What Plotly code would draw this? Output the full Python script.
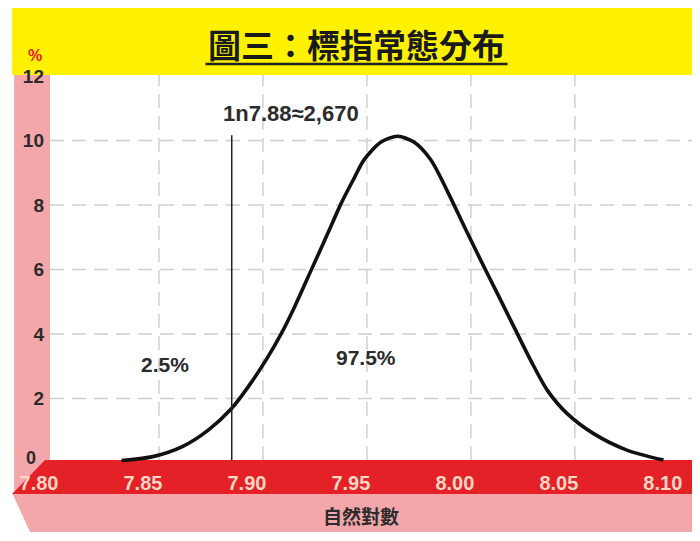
import plotly.graph_objects as go

# ---- data ----
curve_x = [7.832, 7.8465, 7.861, 7.8737, 7.8849, 7.8929, 7.9024, 7.9088, 7.9152, 7.9232,
           7.9312, 7.9376, 7.944, 7.9486, 7.9568, 7.9648, 7.9726, 7.9807, 7.9889, 7.9967,
           8.0047, 8.0127, 8.0207, 8.0287, 8.0367, 8.0463, 8.059, 8.075, 8.0926]
curve_y = [0.08, 0.19, 0.5, 1.02, 1.69, 2.36, 3.29, 4.01, 4.84, 5.98,
           7.12, 8.05, 8.85, 9.4, 9.95, 10.13, 9.95, 9.4, 8.4, 7.35,
           6.29, 5.26, 4.22, 3.19, 2.26, 1.53, 0.91, 0.40, 0.09]
cutoff_x = 7.885
cutoff_top = 10.16
x_ticks = [7.80, 7.85, 7.90, 7.95, 8.00, 8.05, 8.10]
x_tick_text = ["7.80", "7.85", "7.90", "7.95", "8.00", "8.05", "8.10"]
x_grid = [7.85, 7.90, 7.95, 8.00, 8.05]
y_ticks = [0, 2, 4, 6, 8, 10, 12]
y_grid = [2, 4, 6, 8, 10]
title_text = "圖三：標指常態分布"
x_title = "自然對數"
y_unit = "%"
cut_label = "1n7.88≈2,670"
left_label = "2.5%"
right_label = "97.5%"

# ---- layout geometry (pixels in the reference picture) ----
WIDTH, HEIGHT = 700, 541
OFF = 8  # page body margin
L, R, T, B = 48, 692, 75, 463
PW, PH = R - L, B - T


def px(x):
    return (x - L) / PW


def py(y):
    return (B - y) / PH


YELLOW = "#fff200"
RED = "#e42126"
PINK = "#f4a7aa"
CREAM = "#f9d6c6"
DARK = "#2b2b2b"
GRID = "#cfcfcf"

fig = go.Figure()
fig.add_trace(go.Scatter(x=curve_x, y=curve_y, mode="lines",
                         line=dict(color="#111111", width=3.6, shape="spline", smoothing=0.8),
                         hoverinfo="skip", showlegend=False, cliponaxis=False))

shapes = []
shapes.append(dict(type="rect", xref="paper", yref="paper", layer="below",
                   x0=px(10), x1=px(692), y0=py(75), y1=py(8),
                   fillcolor=YELLOW, line=dict(width=0)))
shapes.append(dict(type="rect", xref="paper", yref="paper", layer="below",
                   x0=px(12), x1=px(48), y0=py(494), y1=py(75),
                   fillcolor=PINK, line=dict(width=0)))
shapes.append(dict(type="path", xref="paper", yref="paper", layer="below",
                   path=f"M {px(10)} {py(493)} L {px(692)} {py(493)} L {px(692)} {py(532)} L {px(28)} {py(532)} Z",
                   fillcolor=PINK, line=dict(width=0)))
shapes.append(dict(type="path", xref="paper", yref="paper", layer="below",
                   path=f"M {px(43)} {py(460)} L {px(692)} {py(460)} L {px(692)} {py(494)} L {px(10)} {py(494)} Z",
                   fillcolor=RED, line=dict(width=0)))
for gx in x_grid:
    shapes.append(dict(type="line", xref="x", yref="paper", layer="below",
                       x0=gx, x1=gx, y0=py(460), y1=1,
                       line=dict(color=GRID, width=1.5, dash="14px,8px")))
for gy in y_grid:
    shapes.append(dict(type="line", xref="paper", yref="y", layer="below",
                       x0=0, x1=1, y0=gy, y1=gy,
                       line=dict(color=GRID, width=1.5, dash="14px,8px")))
shapes.append(dict(type="line", xref="x", yref="y", layer="above",
                   x0=cutoff_x, x1=cutoff_x, y0=0.08, y1=cutoff_top,
                   line=dict(color="#222222", width=1.5)))
shapes.append(dict(type="line", xref="paper", yref="paper",
                   x0=px(204), x1=px(507), y0=py(64), y1=py(64),
                   line=dict(color="#222222", width=2.5)))

annotations = [
    dict(text=f"<b>{title_text}</b>", xref="paper", yref="paper", x=px(355), y=py(44),
         showarrow=False, xanchor="center", yanchor="middle",
         font=dict(family="Noto Sans CJK TC", size=33, color="#1a1a1a")),
    dict(text=f"<b>{y_unit}</b>", xref="paper", yref="paper", x=px(33), y=py(56),
         showarrow=False, xanchor="center", yanchor="middle",
         font=dict(family="Liberation Sans", size=16, color=RED)),
    dict(text=f"<b>{x_title}</b>", xref="paper", yref="paper", x=px(360), y=py(515),
         showarrow=False, xanchor="center", yanchor="middle",
         font=dict(family="Noto Sans CJK TC", size=19, color=DARK)),
    dict(text=f"<b>{cut_label}</b>", xref="paper", yref="paper", x=px(290), y=py(113),
         showarrow=False, xanchor="center", yanchor="middle",
         font=dict(family="Liberation Sans", size=22, color=DARK)),
    dict(text=f"<b>{left_label}</b>", xref="paper", yref="paper", x=px(163), y=py(364),
         showarrow=False, xanchor="center", yanchor="middle",
         font=dict(family="Liberation Sans", size=21, color=DARK)),
    dict(text=f"<b>{right_label}</b>", xref="paper", yref="paper", x=px(365), y=py(357),
         showarrow=False, xanchor="center", yanchor="middle",
         font=dict(family="Liberation Sans", size=21, color=DARK)),
    # the "0" tick label sits a touch higher, tucked above the 7.80 label
    dict(text=f"<b>{y_ticks[0]}</b>", xref="paper", yref="y", x=px(29), y=y_ticks[0],
         yshift=5, showarrow=False, xanchor="center", yanchor="middle",
         font=dict(family="Liberation Sans", size=18, color=DARK)),
]

y_tick_text = ["" if t == 0 else f"<b>{t}</b>" for t in y_ticks]

fig.update_layout(
    width=WIDTH, height=HEIGHT,
    margin=dict(l=L - OFF, r=WIDTH - R + OFF, t=T - OFF, b=HEIGHT - B + OFF, pad=0),
    paper_bgcolor="white", plot_bgcolor="rgba(0,0,0,0)",
    shapes=shapes, annotations=annotations, showlegend=False,
    xaxis=dict(range=[7.80 - 5 / 2086, 7.80 + (R - 53) / 2086],
               tickvals=x_ticks, ticktext=[f"<b>{t}</b>" for t in x_tick_text],
               showgrid=False, zeroline=False, showline=False,
               ticks="", ticklabelstandoff=6, ticklabelshift=-16,
               tickfont=dict(family="Liberation Sans", size=20, color=CREAM),
               fixedrange=True),
    yaxis=dict(range=[0, 12.03], tickvals=y_ticks, ticktext=y_tick_text,
               showgrid=False, zeroline=False, showline=False,
               ticks="", ticklabelstandoff=5,
               tickfont=dict(family="Liberation Sans", size=19, color=DARK),
               fixedrange=True),
)

fig.write_html("out.html")
